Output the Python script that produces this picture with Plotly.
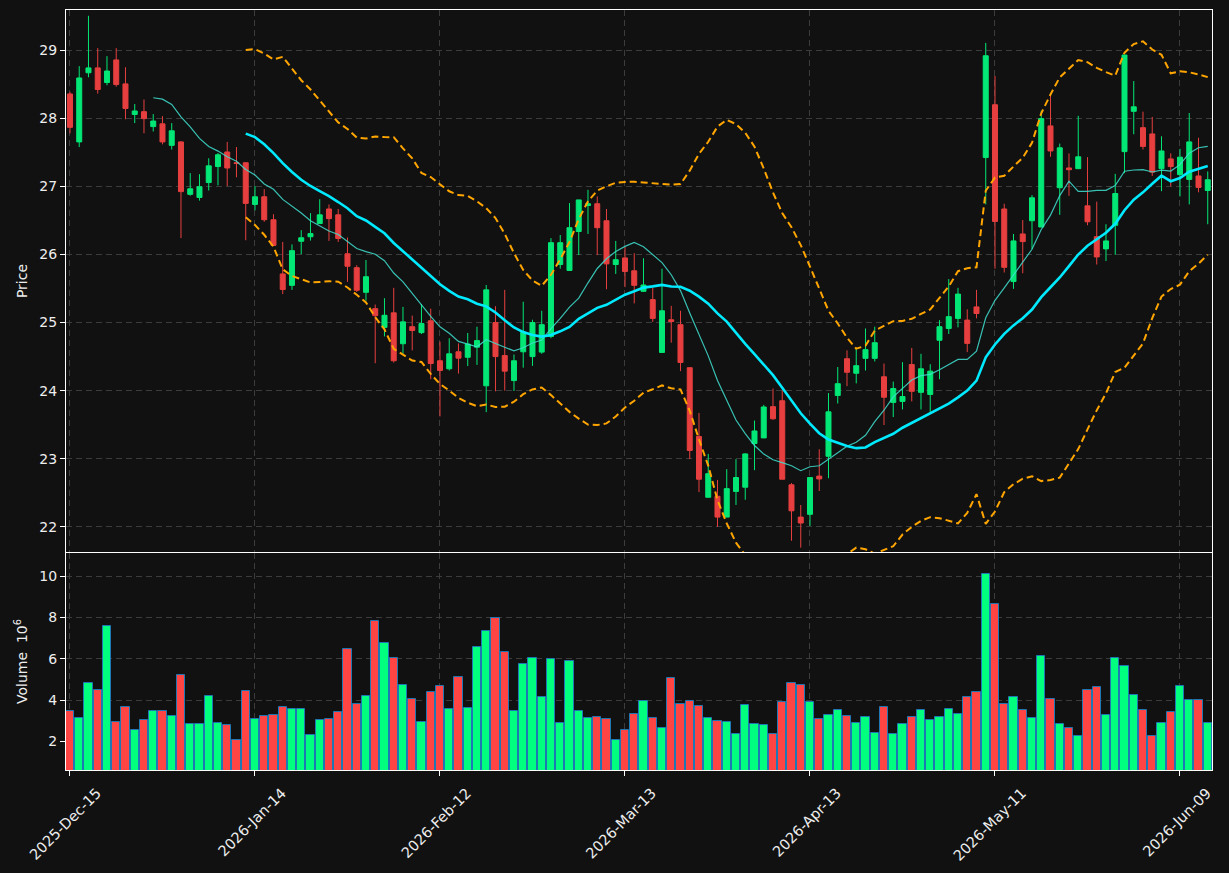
import plotly.graph_objects as go
import pandas as pd

# ---------------- data ----------------
tick_positions = [0, 20, 40, 60, 80, 100, 120]
tick_labels = ["2025-Dec-15", "2026-Jan-14", "2026-Feb-12", "2026-Mar-13",
               "2026-Apr-13", "2026-May-11", "2026-Jun-09"]

opens = [28.357, 27.653, 28.668, 28.74, 28.525, 28.857, 28.505, 28.056, 28.097, 27.878,
         27.918, 27.602, 27.653, 26.883, 26.837, 27.056, 27.291, 27.505, 27.347, 27.347,
         26.735, 26.847, 26.51, 25.714, 25.546, 26.194, 26.26, 26.454, 26.668, 26.582,
         26.01, 25.806, 25.444, 25.204, 24.929, 25.143, 24.689, 24.939, 24.852, 25.026,
         24.439, 24.321, 24.571, 24.49, 24.638, 24.071, 25.0, 24.515, 24.148, 24.571,
         24.5, 24.566, 24.796, 25.852, 25.765, 26.337, 26.719, 26.745, 26.495, 25.852,
         25.949, 25.76, 25.459, 25.337, 24.561, 25.041, 24.969, 24.337, 23.327, 22.434,
         22.449, 22.143, 22.52, 22.582, 23.224, 23.306, 23.765, 23.852, 22.617, 22.143,
         22.184, 22.745, 23.036, 23.929, 24.469, 24.255, 24.474, 24.474, 24.204, 23.827,
         23.842, 24.383, 23.975, 23.944, 24.74, 24.913, 25.061, 25.036, 25.23, 27.423,
         28.199, 26.668, 25.602, 26.301, 26.495, 26.403, 27.888, 26.98, 27.27, 27.26,
         26.714, 26.26, 26.082, 26.429, 27.51, 28.102, 27.862, 27.77, 27.26, 27.403,
         27.173, 27.102, 27.153, 26.939]
highs = [28.388, 28.765, 29.505, 29.03, 28.913, 29.03, 28.75, 28.209, 28.276, 28.061,
         28.031, 27.929, 27.663, 27.194, 27.179, 27.413, 27.49, 27.653, 27.577, 27.35,
         27.005, 26.959, 26.592, 26.184, 26.148, 26.357, 26.607, 26.811, 26.735, 26.668,
         26.25, 25.842, 25.918, 25.265, 25.357, 25.51, 25.23, 25.102, 25.27, 25.204,
         24.719, 24.77, 24.694, 24.847, 24.939, 25.551, 25.24, 25.48, 24.531, 25.306,
         25.041, 25.173, 26.24, 26.286, 26.755, 26.801, 26.949, 26.852, 26.668, 26.199,
         26.112, 26.02, 25.944, 25.51, 25.791, 25.245, 25.173, 24.337, 23.673, 23.071,
         22.689, 22.847, 22.995, 23.082, 23.561, 23.791, 24.031, 24.005, 22.643, 22.321,
         22.724, 23.14, 23.964, 24.347, 24.592, 24.617, 24.913, 24.939, 24.398, 24.133,
         24.418, 24.628, 24.541, 24.388, 25.036, 25.638, 25.51, 25.194, 25.48, 29.107,
         28.622, 26.745, 26.301, 26.505, 26.872, 28.112, 28.342, 27.628, 27.485, 28.036,
         27.429, 26.776, 26.444, 27.184, 28.929, 28.546, 28.097, 28.02, 27.735, 27.485,
         27.551, 28.077, 27.714, 27.219]
lows = [27.78, 27.577, 28.602, 28.362, 28.485, 28.464, 27.985, 27.929, 27.78, 27.806,
        27.617, 27.541, 26.24, 26.862, 26.791, 26.939, 27.015, 27.005, 27.133, 26.209,
        26.648, 26.48, 26.122, 25.418, 25.48, 26.005, 26.204, 26.454, 26.199, 26.184,
        25.597, 25.449, 25.321, 24.403, 24.796, 24.413, 24.541, 24.592, 24.832, 24.168,
        23.622, 24.296, 24.25, 24.362, 24.378, 23.684, 23.99, 24.0, 23.995, 24.337,
        24.364, 24.541, 24.77, 25.791, 25.765, 25.99, 26.301, 25.99, 25.49, 25.714,
        25.52, 25.281, 25.449, 25.01, 24.561, 24.704, 24.286, 22.995, 22.51, 22.434,
        21.999, 22.143, 22.321, 22.398, 22.832, 23.306, 23.571, 22.699, 21.796, 21.694,
        22.015, 22.526, 22.714, 23.811, 24.066, 24.107, 24.296, 24.429, 23.495, 23.612,
        23.724, 23.842, 23.724, 23.689, 24.168, 24.832, 24.929, 24.566, 25.061, 26.735,
        25.791, 25.735, 25.495, 25.724, 26.082, 26.403, 27.434, 26.582, 26.862, 27.26,
        26.429, 25.852, 25.903, 25.995, 27.194, 27.765, 27.541, 27.153, 26.929, 27.0,
        26.852, 26.735, 26.913, 26.444]
closes = [27.867, 28.592, 28.74, 28.423, 28.694, 28.495, 28.143, 28.107, 27.995, 27.959,
          27.653, 27.816, 26.923, 26.964, 26.995, 27.301, 27.464, 27.27, 27.337, 26.75,
          26.847, 26.51, 26.133, 25.485, 26.056, 26.245, 26.306, 26.582, 26.526, 26.235,
          25.827, 25.474, 25.673, 25.102, 25.107, 24.439, 25.01, 24.883, 24.985, 24.398,
          24.296, 24.541, 24.477, 24.684, 24.735, 25.48, 24.5, 24.286, 24.439, 24.857,
          25.0, 24.969, 26.173, 26.173, 26.393, 26.801, 26.745, 26.393, 25.862, 25.923,
          25.75, 25.546, 25.551, 25.061, 25.173, 25.015, 24.413, 23.122, 22.699, 22.781,
          22.143, 22.561, 22.724, 23.071, 23.408, 23.76, 23.587, 22.699, 22.235, 22.056,
          22.724, 22.704, 23.689, 24.102, 24.27, 24.367, 24.602, 24.704, 23.903, 24.031,
          23.913, 23.99, 24.321, 24.286, 24.939, 25.087, 25.418, 24.694, 25.133, 28.918,
          26.485, 25.811, 26.199, 26.189, 26.832, 27.995, 27.52, 27.566, 27.245, 27.434,
          26.48, 25.964, 26.199, 26.895, 28.929, 28.168, 27.587, 27.209, 27.52, 27.291,
          27.429, 27.653, 26.985, 27.097]
# volume in millions of shares
volumes = [3.457, 3.118, 4.814, 4.475, 7.577, 2.924, 3.651, 2.536, 3.021, 3.457,
           3.457, 3.215, 5.202, 2.827, 2.827, 4.184, 2.876, 2.779, 2.052, 4.426,
           3.069, 3.215, 3.263, 3.651, 3.554, 3.554, 2.294, 3.021, 3.069, 3.409,
           6.462, 3.796, 4.184, 7.819, 6.753, 6.026, 4.717, 4.039, 2.924, 4.378,
           4.669, 3.554, 5.105, 3.603, 6.559, 7.334, 7.981, 6.317, 3.457, 5.735,
           6.026, 4.136, 5.977, 2.876, 5.880, 3.457, 3.118, 3.166, 3.069, 2.052,
           2.536, 3.312, 3.942, 3.118, 2.633, 5.057, 3.796, 3.942, 3.699, 3.118,
           2.973, 2.924, 2.375, 3.748, 2.827, 2.779, 2.342, 3.893, 4.814, 4.717,
           3.893, 3.069, 3.263, 3.506, 3.215, 2.876, 3.166, 2.391, 3.651, 2.342,
           2.827, 3.166, 3.506, 3.021, 3.166, 3.554, 3.312, 4.136, 4.378, 10.097,
           8.643, 3.796, 4.136, 3.506, 3.118, 6.123, 4.039, 2.827, 2.633, 2.245,
           4.475, 4.620, 3.263, 6.026, 5.638, 4.233, 3.506, 2.245, 2.876, 3.409,
           4.669, 3.990, 3.990, 2.876]

# ---------------- styling ----------------
BG = "#111111"
UP_CANDLE = "#02e775"
DOWN_CANDLE = "#e73f3f"
UP_VOL = "#00ff7f"
DOWN_VOL = "#ff4444"
GRID = "#3c3c3c"
FONT = "DejaVu Sans"
TXT = "#eeeeee"

x = list(range(len(closes)))
close_s = pd.Series(closes)
ma10 = close_s.rolling(10).mean()
ma20 = close_s.rolling(20).mean()
sd20 = close_s.rolling(20).std(ddof=0)
upper = ma20 + 2 * sd20
lower = ma20 - 2 * sd20

vol_colors = [UP_VOL if c >= o else DOWN_VOL for o, c in zip(opens, closes)]

fig = go.Figure()

fig.add_trace(go.Candlestick(
    x=x, open=opens, high=highs, low=lows, close=closes,
    increasing=dict(line=dict(color=UP_CANDLE, width=1), fillcolor=UP_CANDLE),
    decreasing=dict(line=dict(color=DOWN_CANDLE, width=1), fillcolor=DOWN_CANDLE),
    whiskerwidth=0, xaxis="x", yaxis="y", showlegend=False, name="Price"))

fig.add_trace(go.Scatter(x=x, y=ma10, mode="lines", xaxis="x", yaxis="y",
                         line=dict(color="rgba(64,224,208,0.85)", width=1.2),
                         showlegend=False, name="MA10"))
fig.add_trace(go.Scatter(x=x, y=ma20, mode="lines", xaxis="x", yaxis="y",
                         line=dict(color="#00eaff", width=2.6),
                         showlegend=False, name="MA20"))
fig.add_trace(go.Scatter(x=x, y=upper, mode="lines", xaxis="x", yaxis="y",
                         line=dict(color="#ffa500", width=2, dash="7px,4px"),
                         showlegend=False, name="Upper"))
fig.add_trace(go.Scatter(x=x, y=lower, mode="lines", xaxis="x", yaxis="y",
                         line=dict(color="#ffa500", width=2, dash="7px,4px"),
                         showlegend=False, name="Lower"))

fig.add_trace(go.Bar(x=x, y=volumes, xaxis="x2", yaxis="y2", width=0.9,
                     marker=dict(color=vol_colors, line=dict(color="#1f77b4", width=1)),
                     showlegend=False, name="Volume"))

axis_common = dict(showgrid=True, gridcolor=GRID, griddash="6px,4px", gridwidth=1,
                   showline=True, linecolor="white", linewidth=1, mirror=True,
                   zeroline=False, tickcolor="white", ticklen=5, tickwidth=1,
                   automargin=False,
                   tickfont=dict(family=FONT, size=14, color=TXT))

xr = [-0.43, 123.46]
fig.update_layout(
    width=1229, height=873,
    margin=dict(l=66, r=17, t=10, b=103),
    paper_bgcolor=BG, plot_bgcolor=BG,
    font=dict(family=FONT, size=14, color=TXT),
    boxgap=0.25, boxgroupgap=0.28,
    bargap=0,
    showlegend=False,
    xaxis=dict(axis_common, domain=[0, 1], range=xr, anchor="y",
               tickvals=tick_positions, ticktext=tick_labels,
               showticklabels=False, ticks="", rangeslider=dict(visible=False)),
    xaxis2=dict(axis_common, domain=[0, 1], range=xr, anchor="y2", matches="x",
                tickvals=tick_positions, ticktext=tick_labels,
                ticks="outside", tickangle=-45,
                ticklabelshift=27, ticklabelstandoff=3,
                tickfont=dict(family=FONT, size=14.5, color=TXT)),
    yaxis=dict(axis_common, domain=[0.2868, 1], range=[21.63, 29.59], anchor="x",
               dtick=1, ticks="outside",
               title=dict(text="Price", font=dict(family=FONT, size=14, color=TXT),
                          standoff=8)),
    yaxis2=dict(axis_common, domain=[0, 0.2855], range=[0.61, 11.13], anchor="x2",
                tickvals=[2, 4, 6, 8, 10], ticks="outside",
                title=dict(text="Volume\u00a0\u00a010<sup>6</sup>",
                           font=dict(family=FONT, size=14, color=TXT),
                           standoff=8)),
)

fig.write_html("out.html")
